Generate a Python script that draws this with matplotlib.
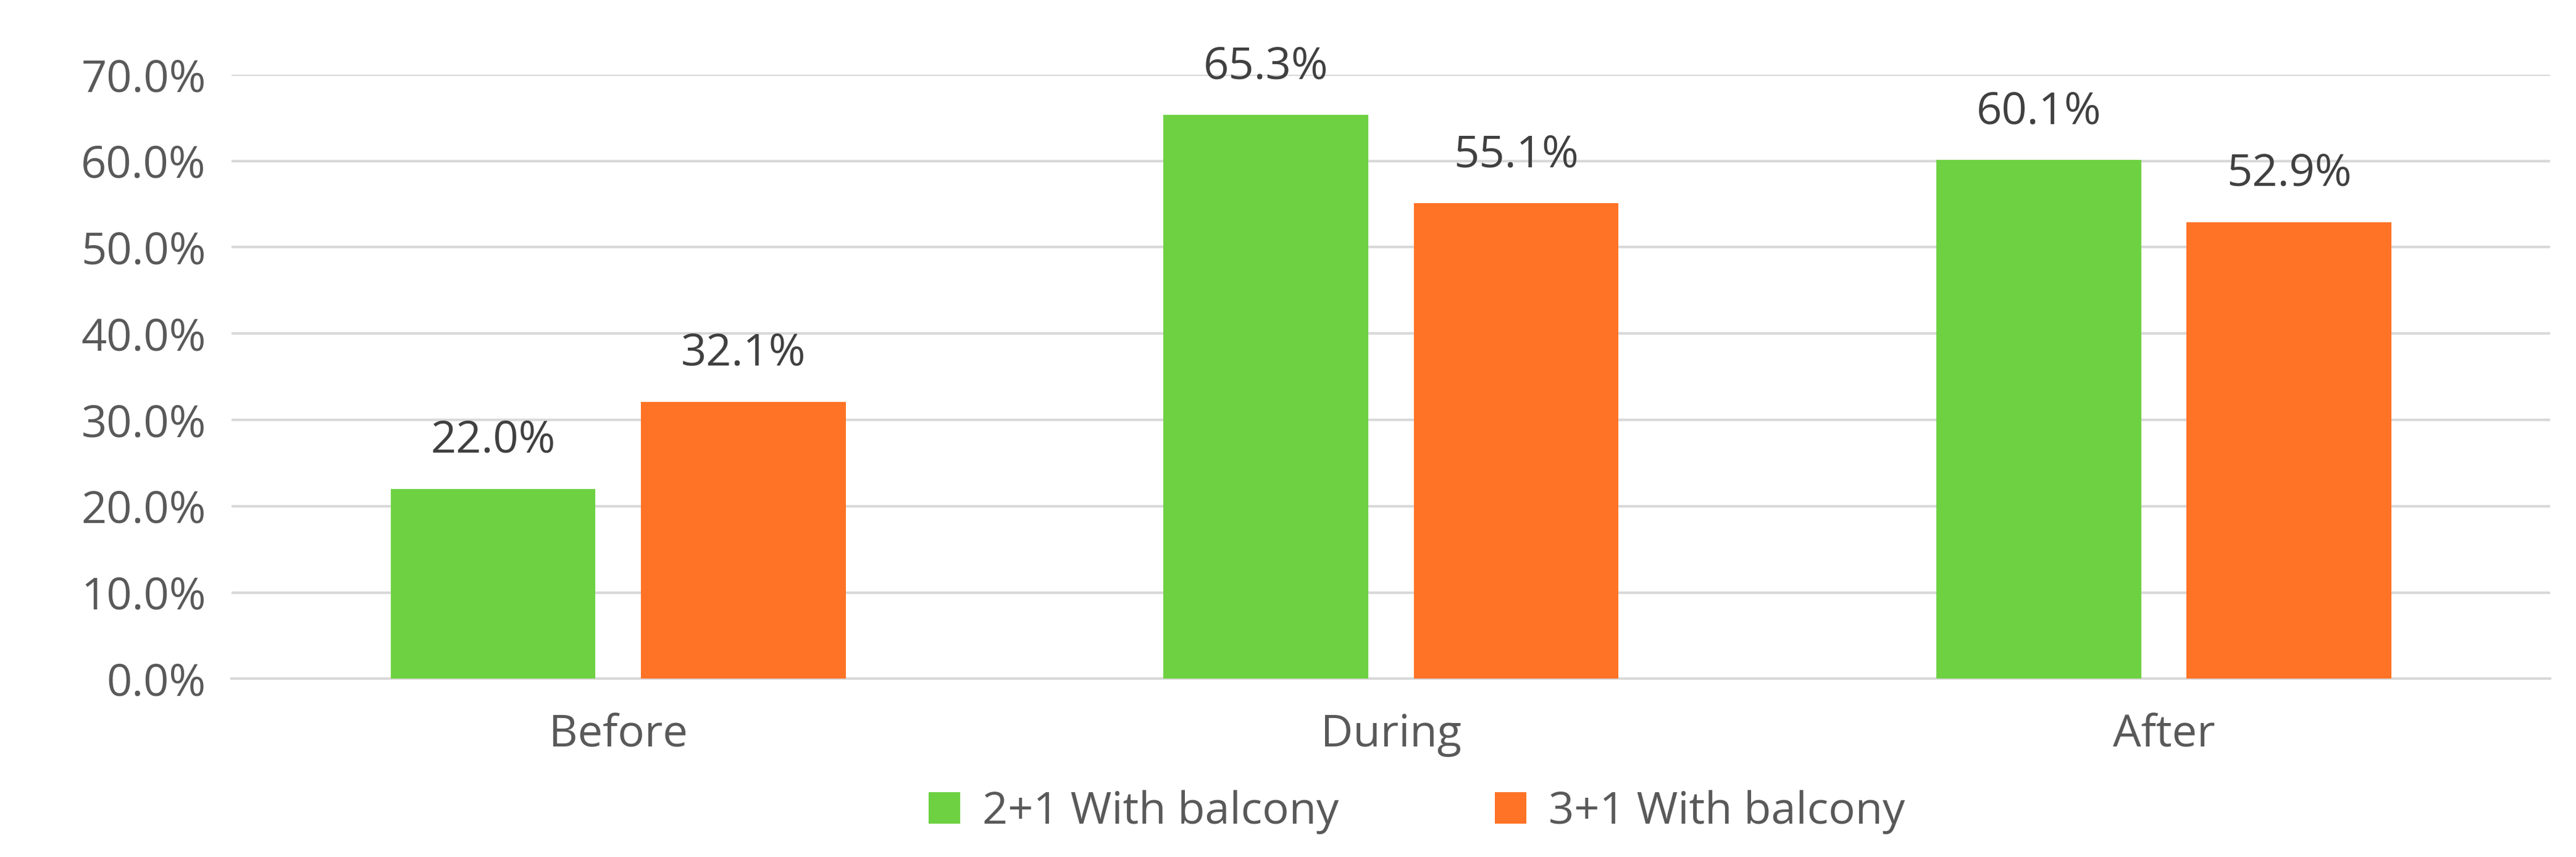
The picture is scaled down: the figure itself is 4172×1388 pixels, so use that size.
import numpy as np
from matplotlib import pyplot as plt

categories = ['Before', 'During', 'After']
series_names = ['2+1 With balcony', '3+1 With balcony']
values_21 = [22.0, 65.3, 60.1]
values_31 = [32.1, 55.1, 52.9]
colors = ['#6DD142', '#FF7326']

plt.rcParams['font.family'] = ['Open Sans', 'DejaVu Sans']

fig = plt.figure(figsize=(41.72, 13.88), dpi=100)
ax = fig.add_axes([0.09, 0.208, 0.9, 0.705])

x = np.arange(len(categories))
w = 0.265
off = 0.162
for vals, dx, c, name in [(values_21, -off, colors[0], series_names[0]),
                          (values_31, off, colors[1], series_names[1])]:
    bars = ax.bar(x + dx, vals, w, color=c, label=name, zorder=3)
    for b, v in zip(bars, vals):
        ax.text(b.get_x() + b.get_width() / 2, v + 3, f'{v:.1f}%',
                ha='center', va='bottom', fontsize=52, color='#404040')

ax.set_xlim(-0.5, 2.5)
ax.set_ylim(0, 70)
ax.set_yticks(np.arange(0, 71, 10))
ax.set_yticklabels([f'{t:.1f}%' for t in np.arange(0, 71, 10)])
ax.set_xticks(x)
ax.set_xticklabels(categories)
ax.tick_params(axis='both', labelsize=52, labelcolor='#595959', length=0)
ax.tick_params(axis='x', pad=40)
ax.tick_params(axis='y', pad=30)
ax.grid(axis='y', color='#D9D9D9', linewidth=3, zorder=0)
for s in ['top', 'right', 'left']:
    ax.spines[s].set_visible(False)
ax.spines['bottom'].set_color('#D9D9D9')
ax.spines['bottom'].set_linewidth(3)

fig.legend(loc='lower center', ncol=2, bbox_to_anchor=(0.55, -0.02), frameon=False,
           fontsize=52, labelcolor='#595959', handlelength=0.7, handleheight=0.7,
           handletextpad=0.5, columnspacing=3.5)

fig.savefig('out.png', dpi=100)
